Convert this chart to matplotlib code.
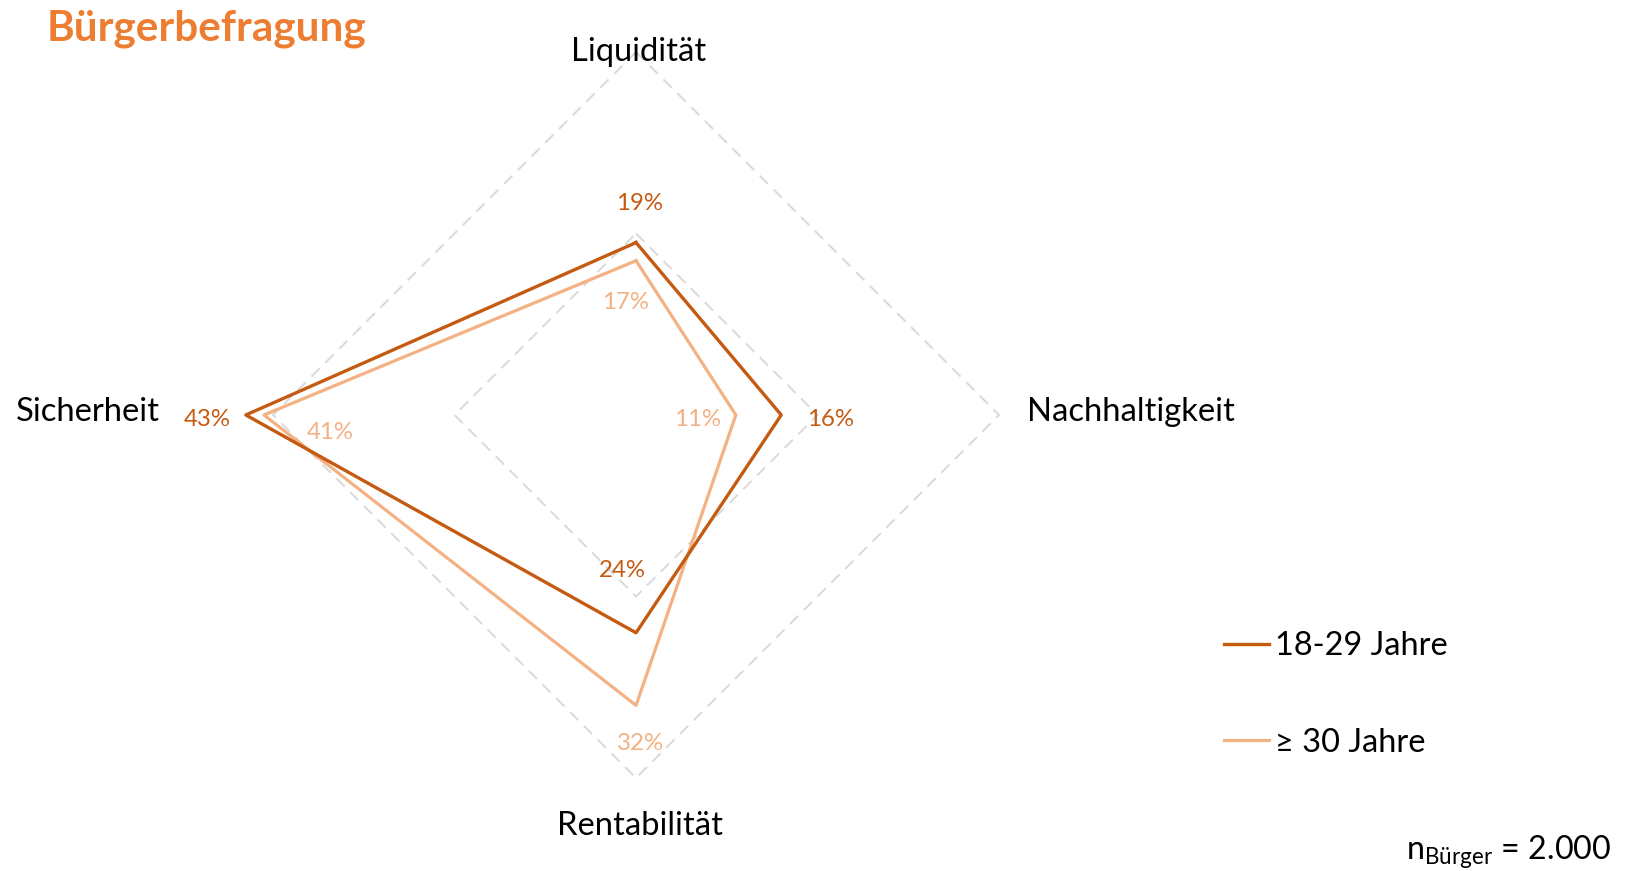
import numpy as np
import matplotlib.pyplot as plt
from matplotlib.lines import Line2D

plt.rcParams['font.family'] = ['Lato', 'DejaVu Sans']

# data ------------------------------------------------------------------------
categories = ["Liquidität", "Nachhaltigkeit", "Rentabilität", "Sicherheit"]
young = [19, 16, 24, 43]      # 18-29 Jahre
older = [17, 11, 32, 41]      # >= 30 Jahre
series_names = ["18-29 Jahre", "≥ 30 Jahre"]
grid_levels = [20, 40]

dark = '#C55A11'
light = '#F4B183'

theta = np.linspace(0, 2 * np.pi, len(categories), endpoint=False)
theta_closed = np.append(theta, theta[0])

fig = plt.figure(figsize=(16.34, 8.71), dpi=100)
ax = fig.add_axes([0.1671, 0.1068, 0.4443, 0.8335], projection='polar')
ax.set_theta_zero_location('N')
ax.set_theta_direction(-1)
ax.set_ylim(0, 40)
ax.set_axis_off()

# dashed diamond grid
for lvl in grid_levels:
    ax.plot(theta_closed, [lvl] * len(theta_closed), color='#D9D9D9', lw=1.4,
            ls=(0, (6, 4)), clip_on=False, zorder=1)

ax.plot(theta_closed, young + [young[0]], color=dark, lw=2.4, clip_on=False, zorder=3)
ax.plot(theta_closed, older + [older[0]], color=light, lw=2.3, clip_on=False, zorder=2)

# data labels (offsets in pixels from the point)
young_off = [(3, 39), (49, -5), (-14, 62), (-39, -5)]
older_off = [(-11, -42), (-38, -5), (4, -38), (66, -18)]
for t, v, off in zip(theta, young, young_off):
    ax.annotate(f"{v}%", (t, v), xytext=off, textcoords='offset pixels',
                ha='center', va='center', fontsize=17.3, color=dark,
                annotation_clip=False)
for t, v, off in zip(theta, older, older_off):
    ax.annotate(f"{v}%", (t, v), xytext=off, textcoords='offset pixels',
                ha='center', va='center', fontsize=17.3, color=light,
                annotation_clip=False)

# category labels
cat_off = [(3, 0), (28, 3), (4, -48), (-113, 3)]
cat_ha = ['center', 'left', 'center', 'right']
for t, name, off, ha in zip(theta, categories, cat_off, cat_ha):
    ax.annotate(name, (t, 40), xytext=off, textcoords='offset pixels',
                ha=ha, va='center', fontsize=23.6, color='black',
                annotation_clip=False)

fig.text(0.0285, 0.967, "Bürgerbefragung", fontsize=30.4, fontweight='bold',
         color='#ED7D31', ha='left', va='center')

handles = [Line2D([], [], color=dark, lw=2.4), Line2D([], [], color=light, lw=2.3)]
fig.legend(handles, series_names, loc='center left', bbox_to_anchor=(0.749, 0.2026),
           frameon=False, fontsize=23.4, handlelength=1.38, handletextpad=0.19,
           labelspacing=2.05, borderaxespad=0, borderpad=0)

fig.text(0.986, 0.0126, r"n$_{\mathregular{Bürger}}$ = 2.000", fontsize=23.2,
         ha='right', va='baseline')

fig.savefig('out.png', dpi=100)
